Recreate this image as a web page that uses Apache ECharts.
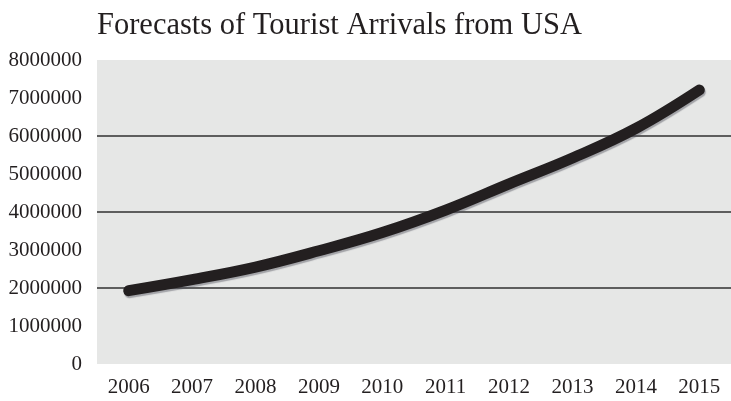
<!DOCTYPE html>
<html>
<head>
<meta charset="utf-8">
<script src="https://cdn.jsdelivr.net/npm/echarts@6/dist/echarts.min.js"></script>
<style>
html,body{margin:0;padding:0;background:#fff;}
#c{width:731px;height:401px;}
</style>
</head>
<body>
<div id="c"></div>
<script>
const titleText = 'Forecasts of Tourist Arrivals from USA';
const years = ['2006','2007','2008','2009','2010','2011','2012','2013','2014','2015'];
const arrivals = [1930000, 2220000, 2550000, 2980000, 3460000, 4050000, 4740000, 5420000, 6200000, 7210000];
const yMin = 0, yMax = 8000000, yStep = 1000000, gridStep = 2000000;

const chart = echarts.init(document.getElementById('c'), null, {renderer: 'canvas'});
const serif = '"Liberation Serif", "DejaVu Serif", serif';
chart.setOption({
  animation: false,
  backgroundColor: '#ffffff',
  title: {
    text: titleText,
    left: 92,
    top: 5,
    textStyle: {fontFamily: serif, fontSize: 30.5, fontWeight: 'normal', color: '#231f20'}
  },
  grid: {
    left: 97, right: 0, top: 60, bottom: 37,
    show: true, backgroundColor: '#e6e7e6', borderWidth: 0
  },
  xAxis: {
    type: 'category',
    data: years,
    boundaryGap: true,
    axisLine: {show: false},
    axisTick: {show: false},
    axisLabel: {fontFamily: serif, fontSize: 21, color: '#231f20', margin: 13}
  },
  yAxis: [{
    type: 'value',
    min: yMin, max: yMax, interval: yStep,
    axisLine: {show: false},
    axisTick: {show: false},
    splitLine: {show: false},
    axisLabel: {fontFamily: serif, fontSize: 21, color: '#231f20', margin: 15,
      formatter: function (v) { return String(v); }}
  }, {
    type: 'value',
    position: 'left',
    min: yMin, max: yMax, interval: gridStep,
    axisLine: {show: false},
    axisTick: {show: false},
    axisLabel: {show: false},
    splitLine: {show: true, showMinLine: false, showMaxLine: false,
      lineStyle: {color: '#5e5e5e', width: 2}}
  }],
  series: [{
    type: 'line',
    data: arrivals,
    yAxisIndex: 0,
    smooth: 0.4,
    showSymbol: false,
    lineStyle: {
      width: 11, color: '#231f20', cap: 'round', join: 'round',
      shadowColor: 'rgba(80,80,90,0.45)', shadowBlur: 1, shadowOffsetX: 1, shadowOffsetY: 2
    }
  }]
});
</script>
</body>
</html>
